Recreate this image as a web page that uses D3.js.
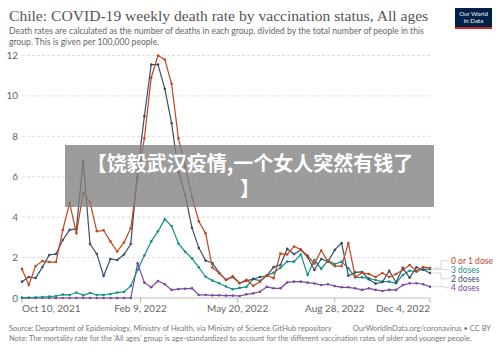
<!DOCTYPE html>
<html>
<head>
<meta charset="utf-8">
<script src="https://cdn.jsdelivr.net/npm/d3@7"></script>
<style>
  body { margin: 0; background: #fff; }
  svg { display: block; font-family: Lato, 'DejaVu Sans', sans-serif; }
  .grid line { stroke: #ddd; stroke-dasharray: 3,2; }
  .axis text { fill: #666; }
</style>
</head>
<body>
<svg id="chart" width="500" height="352"></svg>
<script>
// weekly points, Oct 10 2021 .. Dec 4 2022
const startDate = new Date(2021, 9, 10)
const weekCount = 61

const zeroOrOneDose = [1.44, 0.64, 1.58, 1.83, 1.78, 1.78, 3.37, 4.7, 3.2, 5.2, 4.75, 3.3, 3.35, 2.8, 2.3, 2.75,
  3.45, 6.0, 7.9, 10.9, 12.0, 11.8, 10.6, 7.9, 6.5, 5.0, 3.8, 3.2, 1.5, 1.23, 0.9, 1.08, 0.73, 0.9, 0.6, 0.8,
  1.12, 0.98, 2.2, 2.15, 2.55, 2.4, 2.1, 1.7, 2.35, 1.8, 1.58, 1.58, 2.72, 1.04, 1.24, 1.19, 1.04, 1.24, 1.04,
  1.19, 1.39, 1.63, 1.34, 1.53, 1.48]
const twoDoses = [0.81, 1.04, 0.99, 1.53, 2.13, 2.18, 2.87, 3.37, 3.42, 6.8, 2.67, 2.18, 1.09, 1.93, 1.88, 2.15,
  2.67, 6.3, 9.0, 11.55, 11.55, 10.35, 8.65, 6.25, 5.1, 3.47, 2.48, 1.85, 1.73, 1.24, 0.89, 1.04, 0.74, 0.85,
  0.94, 1.04, 1.09, 1.53, 1.63, 2.43, 2.18, 2.38, 2.03, 1.39, 1.93, 1.8, 2.38, 2.72, 1.1, 1.27, 1.29, 0.93,
  0.71, 0.79, 1.34, 0.78, 1.5, 1.0, 1.52, 1.4, 1.24]
const threeDoses = [0.02, 0.02, 0.03, 0.05, 0.07, 0.1, 0.17, 0.15, 0.27, 0.13, 0.25, 0.15, 0.15, 0.2, 0.27, 0.3,
  0.6, 1.4, 2.1, 2.8, 3.3, 3.9, 3.56, 2.7, 2.29, 1.96, 1.52, 1.05, 0.86, 0.73, 0.57, 0.43, 0.5, 0.55, 0.95,
  0.85, 1.1, 1.25, 1.5, 1.8, 1.8, 2.15, 1.14, 1.88, 1.45, 1.85, 1.68, 1.8, 1.47, 1.02, 1.02, 0.97, 0.89, 0.81,
  0.81, 0.73, 1.14, 1.35, 1.3, 1.42, 1.42]
const fourDoses = [0, 0, 0, 0, 0, 0, 0, 0, 0, 0, 0, 0, 0, 0, 0, 0, 0, 1.72, 0.76, 0.53, 0.84, 0.68, 0.4, 0.44,
  0.46, 0.48, 0.15, 0.15, 0.13, 0.13, 0.12, 0.12, 0.1, 0.18, 0.23, 0.31, 0.55, 0.48, 0.48, 0.77, 0.81, 0.81,
  0.76, 0.72, 0.64, 0.68, 0.59, 0.53, 0.53, 0.48, 0.4, 0.48, 0.4, 0.35, 0.4, 0.4, 0.64, 0.73, 0.73, 0.68, 0.56]

const seriesNames = ['0 or 1 dose', '2 doses', '3 doses', '4 doses']
const seriesColors = ['#c0461b', '#3c4e66', '#14908a', '#7a48a0']
const yTicks = [0, 2, 4, 6, 8, 10, 12]
const xTicks = [new Date(2021, 9, 10), new Date(2022, 1, 9), new Date(2022, 4, 20), new Date(2022, 7, 28), new Date(2022, 11, 4)]

const title = 'Chile: COVID-19 weekly death rate by vaccination status, All ages'
const subtitle = ['Death rates are calculated as the number of deaths in each group, divided by the total number of people in this',
  'group. This is given per 100,000 people.']
const source = 'Source: Department of Epidemiology, Ministry of Health, via Ministry of Science GitHub repository'
const note = "Note: The mortality rate for the 'All ages' group is age-standardized to account for the different vaccination rates of older and younger people."
const banner = ['【饶毅武汉疫情,一个女人突然有钱了', '】']

const dates = d3.range(weekCount).map(i => d3.timeDay.offset(startDate, 7 * i))
const series = [zeroOrOneDose, twoDoses, threeDoses, fourDoses].map((vals, k) => ({
  name: seriesNames[k], color: seriesColors[k], values: vals.map((v, i) => [dates[i], v])
}))

const svg = d3.select('#chart')
const x = d3.scaleTime().domain([startDate, dates[dates.length - 1]]).range([22, 430])
const y = d3.scaleLinear().domain([0, 12]).range([298, 55.5])

// header
svg.append('text').attr('x', 9).attr('y', 21)
  .style('font-family', "'Liberation Serif', 'DejaVu Serif', serif").style('font-size', '15.6px').attr('fill', '#555')
  .text(title)
svg.selectAll('.sub').data(subtitle).join('text').attr('class', 'sub')
  .attr('x', 9).attr('y', (d, i) => 34 + i * 11)
  .style('font-size', '8.6px').attr('fill', '#666').text(d => d)

const logo = svg.append('g').attr('transform', 'translate(455,8)')
logo.append('rect').attr('width', 37).attr('height', 21).attr('fill', '#002147')
logo.append('rect').attr('y', 19).attr('width', 37).attr('height', 2).attr('fill', '#ce261e')
logo.selectAll('text').data(['Our World', 'in Data']).join('text')
  .attr('x', 18.5).attr('y', (d, i) => 8 + i * 7).attr('text-anchor', 'middle')
  .style('font-size', '6.2px').attr('fill', '#fff').text(d => d)

// grid and axes
svg.append('g').attr('class', 'grid').selectAll('line').data(yTicks.filter(d => d > 0)).join('line')
  .attr('x1', 22).attr('x2', 430).attr('y1', d => y(d)).attr('y2', d => y(d))
svg.append('line').attr('x1', 22).attr('x2', 430).attr('y1', y(0)).attr('y2', y(0)).attr('stroke', '#bbb')

const yAxis = svg.append('g').attr('class', 'axis')
yAxis.selectAll('text').data(yTicks).join('text')
  .attr('x', 18).attr('y', d => y(d) + 3.5).attr('text-anchor', 'end')
  .style('font-size', '10px').text(d => d)

const xAxis = svg.append('g').attr('class', 'axis')
xAxis.selectAll('line').data(xTicks).join('line')
  .attr('x1', d => x(d)).attr('x2', d => x(d)).attr('y1', 298).attr('y2', 303).attr('stroke', '#bbb')
xAxis.selectAll('text').data(xTicks).join('text')
  .attr('x', d => x(d)).attr('y', 312)
  .attr('text-anchor', (d, i) => i === 0 ? 'start' : i === xTicks.length - 1 ? 'end' : 'middle')
  .style('font-size', '10px').text(d => d3.timeFormat('%b %-d, %Y')(d))

// lines
const line = d3.line().x(d => x(d[0])).y(d => y(d[1]))
const plot = svg.append('g')
series.slice().reverse().forEach(s => {
  plot.append('path').datum(s.values).attr('d', line)
    .attr('fill', 'none').attr('stroke', s.color).attr('stroke-width', 1.2)
  plot.append('g').selectAll('circle').data(s.values).join('circle')
    .attr('cx', d => x(d[0])).attr('cy', d => y(d[1])).attr('r', 1.3).attr('fill', s.color)
})

// legend labels at line ends, pushed apart
const labels = series.map(s => ({ s, target: y(s.values[s.values.length - 1][1]) }))
  .sort((a, b) => a.target - b.target)
labels.forEach(l => { l.pos = l.target })
for (let iter = 0; iter < 100; iter++) {
  for (let i = 1; i < labels.length; i++) {
    const gap = labels[i].pos - labels[i - 1].pos
    if (gap < 9) {
      const push = (9 - gap) / 2
      labels[i - 1].pos -= push
      labels[i].pos += push
    }
  }
}
labels.forEach((l, i) => {
  const bendX = 441 + (i % 2) * 3
  svg.append('path')
    .attr('d', `M433,${l.target}H${bendX}V${l.pos}H449`)
    .attr('fill', 'none').attr('stroke', '#ccc').attr('stroke-width', 0.8)
  svg.append('text').attr('x', 451).attr('y', l.pos + 3)
    .style('font-size', '8.5px').attr('fill', l.s.color).text(l.s.name)
})

// footer
svg.append('text').attr('x', 9).attr('y', 331).style('font-size', '7.5px').attr('fill', '#777').text(source)
svg.append('text').attr('x', 491).attr('y', 331).attr('text-anchor', 'end')
  .style('font-size', '7.5px').attr('fill', '#777').text('OurWorldInData.org/coronavirus • CC BY')
svg.append('text').attr('x', 9).attr('y', 341).style('font-size', '7.5px').attr('fill', '#777').text(note)

// overlay banner
svg.append('rect').attr('x', 65).attr('y', 145).attr('width', 369).attr('height', 62)
  .attr('fill', 'rgba(128,128,128,0.78)')
svg.selectAll('.banner').data(banner).join('text').attr('class', 'banner')
  .attr('x', 250).attr('y', (d, i) => 171 + i * 25).attr('text-anchor', 'middle')
  .style('font-family', "'Noto Sans CJK SC', sans-serif").style('font-size', '20px').style('font-weight', 'bold')
  .attr('fill', '#fff').text(d => d)
</script>
</body>
</html>
